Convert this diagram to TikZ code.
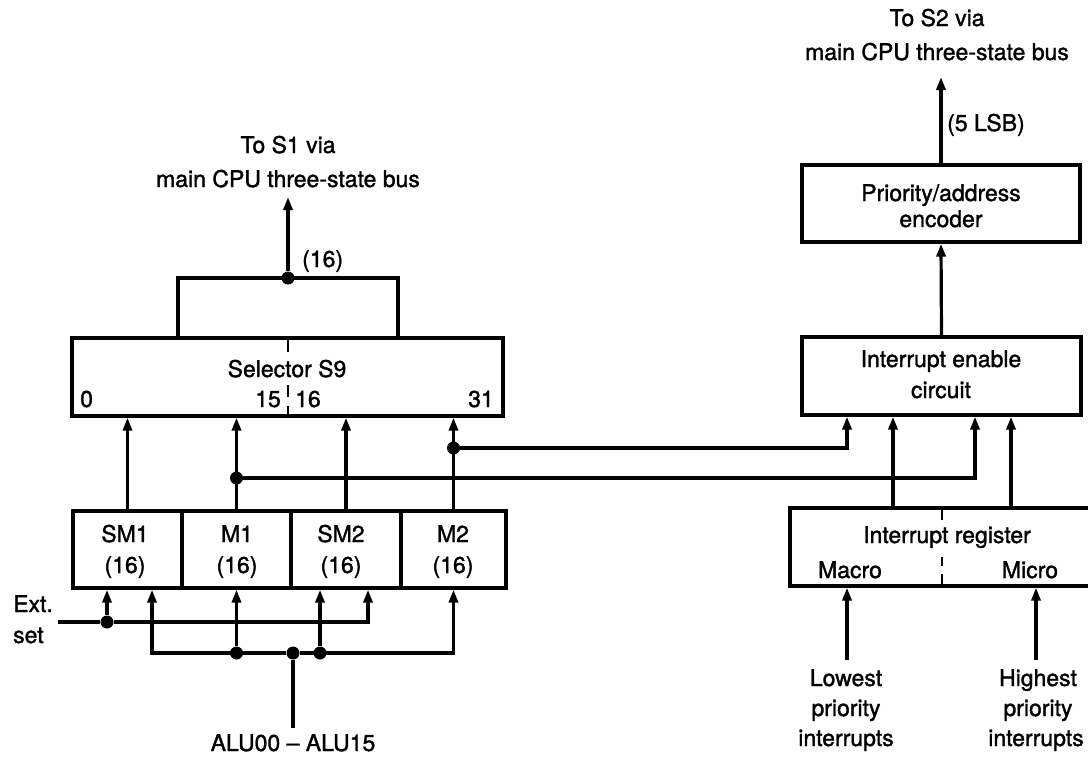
\documentclass[tikz,border=0pt]{standalone}
\usepackage{fontspec}
\setmainfont{TeX Gyre Heros}
\newfontfamily\lblfont{TeX Gyre Heros}[FakeBold=1.4]
\usetikzlibrary{arrows.meta}
\begin{document}
\begin{tikzpicture}[x=1pt,y=-1pt,
  wire/.style={line width=3.2pt},
  feed/.style={wire,-{Triangle[length=13pt,width=9pt]}},
  blk/.style={draw,line width=3.2pt,inner sep=0pt},
  lbl/.style={font=\lblfont\fontsize{23}{28}\selectfont,inner sep=0pt},
  dot/.style={circle,fill,inner sep=0pt,minimum size=13pt},
  divider/.style={line width=2.8pt}
]
\useasboundingbox (0,0) rectangle (1088,756);

% ---------- left half: selector and holding registers ----------
\node[blk,minimum width=431pt,minimum height=78pt] (sel) at (287.5,377) {};
\node[blk,minimum width=109pt,minimum height=77pt] (sm1) at (127.5,549.5) {};
\node[blk,minimum width=109pt,minimum height=77pt] (m1)  at (236.5,549.5) {};
\node[blk,minimum width=110pt,minimum height=77pt] (sm2) at (346,549.5) {};
\node[blk,minimum width=105pt,minimum height=77pt] (m2)  at (453.5,549.5) {};

\node[lbl,anchor=base] (selT) at (287,377) {Selector S9};
\node[lbl,anchor=base west] (sel0)  at (80,407) {0};
\node[lbl,anchor=base east] (sel15) at (281,407) {15};
\node[lbl,anchor=base west] (sel16) at (295,407) {16};
\node[lbl,anchor=base east] (sel31) at (494,407) {31};
\draw[divider] (288,338) -- (288,352) (288,385) -- (288,397) (288,406) -- (288,416);

\node[lbl,anchor=base] (sm1a) at (125,542) {SM1};
\node[lbl,anchor=base] (sm1b) at (125,573) {(16)};
\node[lbl,anchor=base] (m1a)  at (237,542) {M1};
\node[lbl,anchor=base] (m1b)  at (237,573) {(16)};
\node[lbl,anchor=base] (sm2a) at (341,542) {SM2};
\node[lbl,anchor=base] (sm2b) at (341,573) {(16)};
\node[lbl,anchor=base] (m2a)  at (453,542) {M2};
\node[lbl,anchor=base] (m2b)  at (453,573) {(16)};

% output bracket to the S1 bus
\node[dot] (jt) at (288,278) {};
\coordinate (s1top) at (288,197);
\coordinate (bL) at (178,278);
\coordinate (bR) at (398,278);
\draw[wire] (bL |- sel.north) -- (bL) -- (bR) -- (bR |- sel.north);
\draw[feed] (jt) -- (s1top);
\node[lbl,anchor=base west] (w16) at (302,267) {(16)};
\node[lbl,anchor=base] (t1a) at (288,153) {To S1 via};
\node[lbl,anchor=base] (t1b) at (288,187) {main CPU three-state bus};

% register outputs into the selector
\foreach \b in {sm1,m1,sm2,m2}
  \draw[feed] (\b.north) -- (\b.north |- sel.south);

% ---------- right half: interrupt logic ----------
\node[blk,minimum width=278pt,minimum height=77pt] (pri) at (941,203.5) {};
\node[blk,minimum width=279pt,minimum height=78pt] (enb) at (941.5,376) {};
\node[blk,minimum width=320pt,minimum height=78pt] (reg) at (950,547) {};

\node[lbl,anchor=base] (priA) at (941,201) {Priority/address};
\node[lbl,anchor=base] (priB) at (941,227) {encoder};
\node[lbl,anchor=base] (enbA) at (941,367) {Interrupt enable};
\node[lbl,anchor=base] (enbB) at (941,398) {circuit};
\node[lbl,anchor=base] (regA) at (947,543) {Interrupt register};
\node[lbl,anchor=base] (regB) at (850,578) {Macro};
\node[lbl,anchor=base] (regC) at (1030,578) {Micro};
\draw[divider] (942,508) -- (942,520) (942,557) -- (942,566) (942,574) -- (942,586);

\coordinate (s2top) at (941,77);
\draw[feed] (pri.north) -- (s2top);
\node[lbl,anchor=base west] (lsb) at (947,131) {(5 LSB)};
\node[lbl,anchor=base] (t2a) at (937,26) {To S2 via};
\node[lbl,anchor=base] (t2b) at (937,60) {main CPU three-state bus};
\draw[feed] (enb.north) -- (pri.south);

% enable-circuit inputs
\coordinate (xA) at (847,0);
\coordinate (xB) at (893,0);
\coordinate (xC) at (975,0);
\coordinate (xD) at (1011,0);
\coordinate (h1) at (0,448);
\coordinate (h2) at (0,478);
\node[dot] (dM2) at (m2.north |- h1) {};
\node[dot] (dM1) at (m1.north |- h2) {};
\draw[feed] (dM2) -| (enb.south -| xA);
\draw[feed] (dM1) -| (enb.south -| xC);
\draw[feed] (reg.north -| xB) -- (enb.south -| xB);
\draw[feed] (reg.north -| xD) -- (enb.south -| xD);

% interrupt request inputs
\coordinate (lowtop) at (847,660);
\coordinate (hightop) at (1036,660);
\draw[feed] (lowtop) -- (reg.south -| lowtop);
\draw[feed] (hightop) -- (reg.south -| hightop);
\node[lbl,anchor=base] (lo1) at (846,686) {Lowest};
\node[lbl,anchor=base] (lo2) at (846,716) {priority};
\node[lbl,anchor=base] (lo3) at (846,746) {interrupts};
\node[lbl,anchor=base] (hi1) at (1038,686) {Highest};
\node[lbl,anchor=base] (hi2) at (1038,716) {priority};
\node[lbl,anchor=base] (hi3) at (1036,746) {interrupts};

% ---------- register loading ----------
\coordinate (extL) at (58,622);
\coordinate (extR) at (368,622);
\node[dot] (dE) at (107,622) {};
\draw[wire] (extL) -- (dE);
\draw[feed] (dE) -- (sm1.south -| dE);
\draw[feed] (dE) -| (sm2.south -| extR);
\node[lbl,anchor=base west] (ext1) at (13,612) {Ext.};
\node[lbl,anchor=base west] (ext2) at (13,643) {set};

\coordinate (h3) at (0,653);
\coordinate (busL) at (152,653);
\coordinate (aluB) at (293,728);
\node[dot] (dA) at (293,653) {};
\node[dot] (dB) at (m1.south |- h3) {};
\node[dot] (dC) at (320,653) {};
\draw[wire] (aluB) -- (dA);
\draw[feed] (dA) -- (busL) -- (sm1.south -| busL);
\draw[feed] (dA) -| (m2.south);
\draw[feed] (dB) -- (m1.south);
\draw[feed] (dC) -- (sm2.south -| dC);
\node[lbl,anchor=base] (alu) at (293,751) {ALU00 \textendash\ ALU15};
\end{tikzpicture}
\end{document}
